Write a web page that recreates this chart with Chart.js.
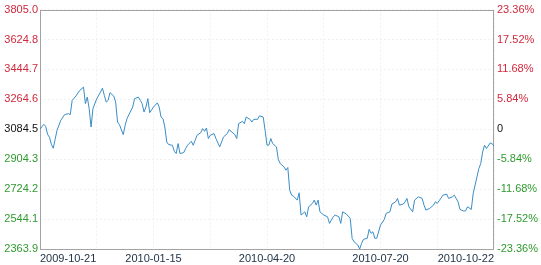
<!DOCTYPE html>
<html>
<head>
<meta charset="utf-8">
<script src="https://cdn.jsdelivr.net/npm/chart.js@4.4.1/dist/chart.umd.min.js"></script>
<style>
  html, body { margin: 0; padding: 0; background: #fff; }
  #wrap { width: 541px; height: 265px; }
</style>
</head>
<body>
<div id="wrap"><canvas id="indexChart" width="541" height="265"></canvas></div>
<script>
// trading-day index from 2009-10-21 and close
const dayIndex = [
  0, 2, 3, 4, 5, 6, 7, 8, 9, 11, 13, 15, 16, 17, 19, 21, 23, 24, 25, 26,
  27, 28, 30, 32, 33, 34, 35, 36, 37, 39, 40, 41, 42, 44, 45, 46, 47, 49, 50, 52,
  53, 54, 55, 56, 57, 58, 60, 62, 63, 64, 65, 66, 67, 68, 70, 71, 72, 73, 74, 76,
  77, 78, 80, 81, 82, 83, 85, 86, 87, 88, 89, 90, 92, 93, 95, 97, 99, 100, 101, 103,
  104, 105, 107, 108, 109, 111, 112, 113, 115, 116, 118, 119, 120, 121, 122, 123, 125, 126, 127, 129,
  130, 131, 132, 133, 134, 136, 137, 138, 140, 141, 142, 144, 145, 146, 147, 148, 150, 152, 153, 155,
  156, 158, 159, 160, 162, 164, 165, 166, 168, 169, 170, 171, 173, 174, 175, 176, 177, 178, 180, 182,
  183, 185, 186, 188, 189, 190, 192, 193, 194, 195, 197, 198, 200, 202, 203, 204, 206, 208, 209, 210,
  211, 213, 215, 216, 218, 219, 221, 222, 224, 225, 226, 228, 229, 231, 232, 233, 234, 235, 236, 238,
  239, 240,
];
const closePrice = [
  3084.5, 3114.5, 3102.5, 3054.4, 3036.4, 2994.4, 2970.4, 3024.4, 3078.4, 3138.5, 3172.7, 3178.7, 3172.7, 3258.6, 3284.4, 3318.6, 3338.4, 3238.8, 3278.4, 3208.7,
  3098.3, 3208.7, 3268.8, 3308.4, 3332.4, 3288.6, 3248.4, 3258.6, 3304.8, 3284.4, 3248.4, 3128.3, 3112.7, 3052.6, 3108.5, 3148.7, 3172.7, 3218.3, 3268.8, 3278.4,
  3258.6, 3238.8, 3188.3, 3218.3, 3268.8, 3184.7, 3218.3, 3243.6, 3218.3, 3158.3, 3148.7, 3098.3, 3008.2, 2992.6, 2988.4, 2952.3, 2938.5, 2998.6, 2938.5, 2944.5,
  2968.5, 2988.4, 3012.4, 2988.4, 3018.4, 3048.4, 3064.6, 3088.6, 3072.4, 3092.3, 3028.6, 3048.4, 3058.6, 3028.6, 2978.2, 3038.2, 3058.6, 3082.6, 3072.4, 3052.6,
  3028.6, 3118.7, 3132.5, 3118.7, 3158.3, 3144.5, 3128.3, 3144.5, 3144.5, 3165.5, 3158.3, 3078.4, 2988.4, 2990.0, 3028.6, 2998.6, 2978.2, 2902.5, 2878.5, 2858.1,
  2838.3, 2854.5, 2718.2, 2688.1, 2682.1, 2658.1, 2701.9, 2568.1, 2587.9, 2557.8, 2617.9, 2638.3, 2658.1, 2628.1, 2658.1, 2587.9, 2568.1, 2557.8, 2518.2, 2557.8,
  2568.1, 2557.8, 2518.2, 2587.9, 2574.1, 2548.3, 2428.1, 2407.8, 2387.9, 2363.9, 2398.1, 2422.1, 2428.1, 2482.2, 2458.2, 2467.8, 2428.1, 2428.1, 2508.0, 2542.2,
  2578.3, 2587.9, 2634.1, 2647.9, 2668.3, 2628.1, 2634.1, 2647.9, 2668.3, 2617.9, 2587.9, 2658.1, 2677.9, 2668.3, 2628.1, 2598.1, 2608.3, 2628.1, 2647.9, 2638.3,
  2654.0, 2688.1, 2694.1, 2668.3, 2677.9, 2688.1, 2647.9, 2602.3, 2592.1, 2593.9, 2617.9, 2602.3, 2698.3, 2798.0, 2848.5, 2878.5, 2948.1, 2988.4, 2968.5, 3002.2,
  2998.6, 2982.4,
];

const basePrice = 3084.5;
const priceTicks = [2363.9, 2544.1, 2724.2, 2904.3, 3084.5, 3264.6, 3444.7, 3624.8, 3805.0];
const pctTicks = [-23.36, -17.52, -11.68, -5.84, 0, 5.84, 11.68, 17.52, 23.36];
const dateTickIdx = [0, 60, 120, 180, 240];
const dateLabels = ["2009-10-21", "2010-01-15", "2010-04-20", "2010-07-20", "2010-10-22"];
const gridStepIdx = [0, 30, 60, 90, 120, 150, 180, 210, 240];

const UP = "#d0283c";
const DOWN = "#2f9a2f";
const GRID = "#f1f1f1";
const FONT = { family: "Arial, 'Liberation Sans', sans-serif", size: 11 };

function tickColor(value, zero) {
  if (Math.abs(value - zero) < 1e-6) return "#111";
  return value > zero ? UP : DOWN;
}

const frame = {
  id: "frame",
  beforeDatasetsDraw(chart) {
    const { ctx, chartArea: a } = chart;
    ctx.save();
    ctx.strokeStyle = "#a3a3a3";
    ctx.lineWidth = 1;
    ctx.strokeRect(Math.round(a.left) + 0.5, Math.round(a.top) + 0.5, Math.round(a.right - a.left) - 1, Math.round(a.bottom - a.top));
    ctx.restore();
  },
};

new Chart(document.getElementById("indexChart"), {
  type: "line",
  data: {
    datasets: [{
      data: dayIndex.map((d, i) => ({ x: d, y: closePrice[i] })),
      yAxisID: "price",
      borderColor: "#3a8dc6",
      borderWidth: 1,
      pointRadius: 0,
      tension: 0,
      fill: false,
    }],
  },
  options: {
    responsive: false,
    animation: false,
    layout: { padding: { top: 9 } },
    plugins: { legend: { display: false }, tooltip: { enabled: false } },
    scales: {
      x: {
        type: "linear",
        min: 0,
        max: 240,
        afterBuildTicks: (scale) => { scale.ticks = gridStepIdx.map((v) => ({ value: v })); },
        afterFit: (scale) => { scale.height = 16; },
        border: { display: false, dash: [2, 2] },
        grid: { color: GRID, drawTicks: false },
        ticks: {
          autoSkip: false,
          maxRotation: 0,
          align: "inner",
          padding: 3,
          color: "#233548",
          font: FONT,
          callback: (value) => {
            const k = dateTickIdx.indexOf(value);
            return k >= 0 ? dateLabels[k] : "";
          },
        },
      },
      price: {
        position: "left",
        min: priceTicks[0],
        max: priceTicks[priceTicks.length - 1],
        afterBuildTicks: (scale) => { scale.ticks = priceTicks.map((v) => ({ value: v })); },
        afterFit: (scale) => { scale.width = 40; },
        border: { display: false, dash: [2, 2] },
        grid: { color: GRID, drawTicks: false },
        ticks: {
          padding: 2,
          font: FONT,
          color: (ctx) => tickColor(ctx.tick.value, basePrice),
          callback: (value) => value.toFixed(1),
        },
      },
      pct: {
        position: "right",
        min: pctTicks[0],
        max: pctTicks[pctTicks.length - 1],
        afterBuildTicks: (scale) => { scale.ticks = pctTicks.map((v) => ({ value: v })); },
        afterFit: (scale) => { scale.width = 47; },
        border: { display: false },
        grid: { drawOnChartArea: false, drawTicks: false },
        ticks: {
          padding: 3,
          font: FONT,
          color: (ctx) => tickColor(ctx.tick.value, 0),
          callback: (value) => (value === 0 ? "0" : value.toFixed(2) + "%"),
        },
      },
    },
  },
  plugins: [frame],
});
</script>
</body>
</html>
